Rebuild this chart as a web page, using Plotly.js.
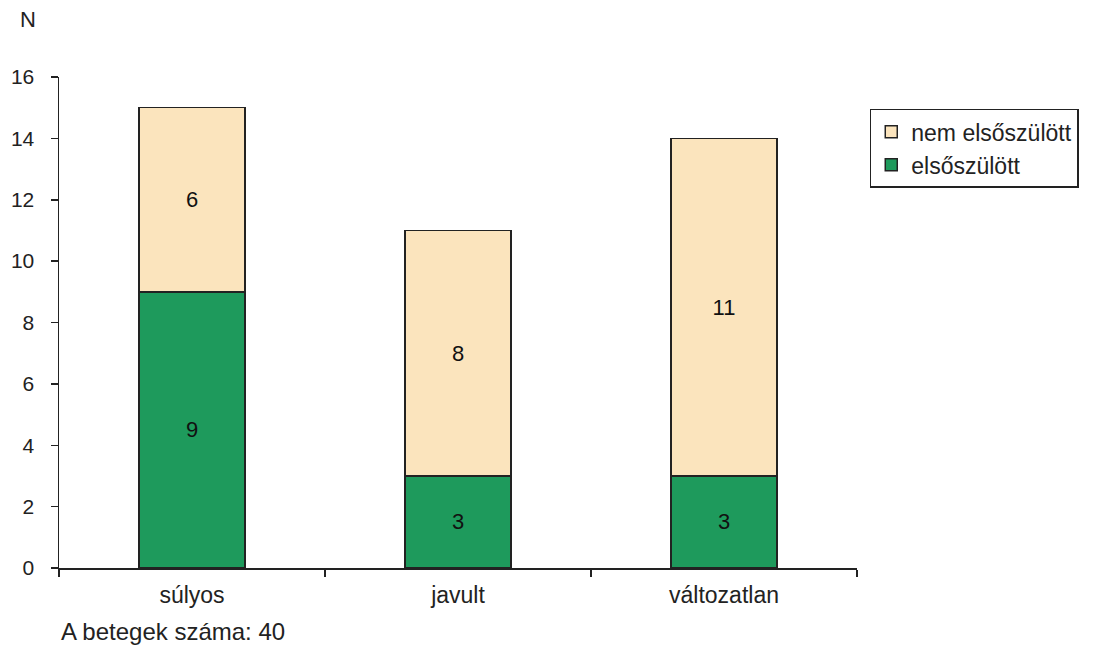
<!DOCTYPE html>
<html>
<head>
<meta charset="utf-8">
<script src="https://cdn.plot.ly/plotly-3.0.1.min.js"></script>
<style>html,body{margin:0;padding:0;background:#fff;}#chart{width:1093px;height:647px;}</style>
</head>
<body>
<div id="chart"></div>
<script>
const categories = ["súlyos", "javult", "változatlan"];
const elsoszulott = [9, 3, 3];
const nemElsoszulott = [6, 8, 11];
const seriesNames = ["elsőszülött", "nem elsőszülött"];
const yTicks = [0, 2, 4, 6, 8, 10, 12, 14, 16];

const font = "Liberation Sans, Arial, Helvetica, sans-serif";
const common = {
  type: "bar",
  x: categories,
  width: 0.4,
  textposition: "inside",
  insidetextanchor: "middle",
  textangle: 0,
  constraintext: "none",
  textfont: {family: font, size: 22, color: "#111"},
  hoverinfo: "skip"
};
const traces = [
  Object.assign({}, common, {
    name: seriesNames[0], y: elsoszulott, text: elsoszulott.map(String),
    marker: {color: "#1e9a5c", line: {color: "#222", width: 1.5}}
  }),
  Object.assign({}, common, {
    name: seriesNames[1], y: nemElsoszulott, text: nemElsoszulott.map(String),
    marker: {color: "#fbe4bd", line: {color: "#222", width: 1.5}}
  })
];

const layout = {
  width: 1093, height: 647,
  margin: {l: 59, r: 236, t: 77, b: 79},
  paper_bgcolor: "#fff", plot_bgcolor: "#fff",
  barmode: "stack",
  font: {family: font, size: 21, color: "#222"},
  showlegend: true,
  legend: {
    x: 1.016, y: 0.935, xanchor: "left", yanchor: "top",
    traceorder: "reversed",
    bordercolor: "#222", borderwidth: 1.5,
    font: {family: font, size: 23, color: "#222"},
    itemwidth: 30, tracegroupgap: 0
  },
  xaxis: {
    type: "category", range: [-0.5, 2.5],
    showline: true, linecolor: "#222", linewidth: 1.5,
    ticks: "outside", tickson: "boundaries", ticklen: 7, tickwidth: 1.5, tickcolor: "#222",
    ticklabelstandoff: 6,
    showgrid: false, zeroline: false,
    tickfont: {family: font, size: 23, color: "#222"}
  },
  yaxis: {
    range: [0, 16], tickvals: yTicks, ticktext: yTicks.map(String),
    showline: true, linecolor: "#222", linewidth: 1.5,
    ticks: "outside", ticklen: 7, tickwidth: 1.5, tickcolor: "#222",
    ticklabelstandoff: 12,
    showgrid: false, zeroline: false,
    tickfont: {family: font, size: 21, color: "#222"}
  },
  annotations: [
    {text: "N", xref: "paper", yref: "paper", x: -0.051, y: 1.118, xanchor: "left", yanchor: "middle",
     showarrow: false, font: {family: font, size: 22, color: "#222"}},
    {text: "A betegek száma: 40", xref: "paper", yref: "paper", x: 0.0, y: -0.13, xanchor: "left", yanchor: "middle",
     showarrow: false, font: {family: font, size: 24, color: "#222"}}
  ]
};

Plotly.newPlot("chart", traces, layout, {displayModeBar: false, staticPlot: true});
</script>
</body>
</html>
